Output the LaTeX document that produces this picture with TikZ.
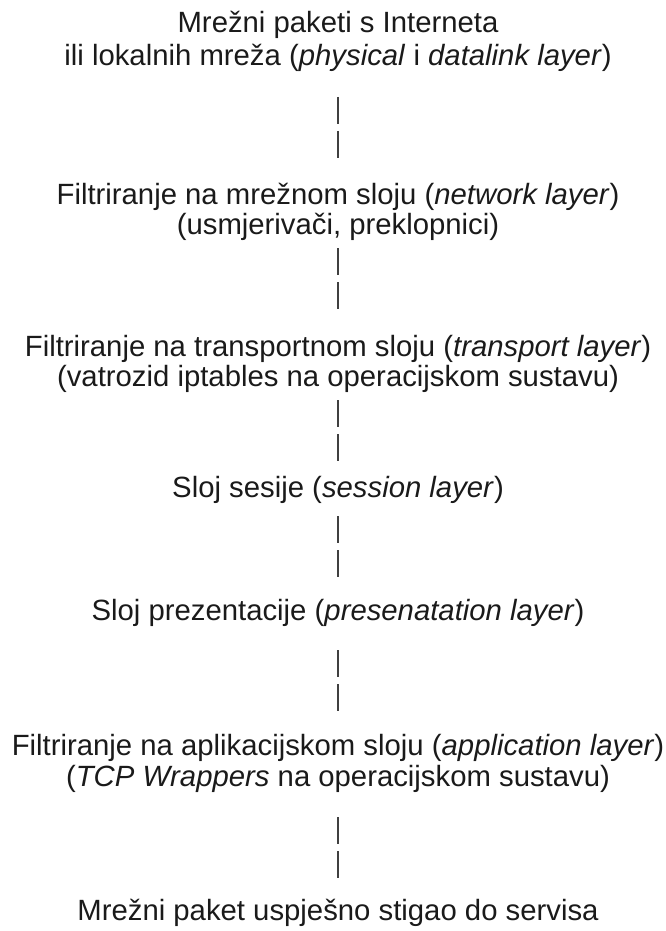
\documentclass[tikz,border=0pt]{standalone}
\usepackage{fontspec}
\setmainfont{Liberation Sans}
\definecolor{ink}{HTML}{1A1A1A}
\definecolor{rule}{HTML}{404040}
\tikzset{
  every node/.style={font=\fontsize{29.3}{29.3}\selectfont, text=ink},
  line/.style={anchor=base, inner sep=0pt},
  bars/.style={draw=rule, line width=2.4pt, dash pattern=on 27pt off 7pt},
}
\begin{document}
\begin{tikzpicture}[x=1pt, y=-1pt]
  \useasboundingbox (0,0) rectangle (666,931);

  % ---- layers, one node per printed line ----
  \node[line] (src1) at (338,33) {Mrežni paketi s Interneta};
  \node[line] (src2) at (338,66) {ili lokalnih mreža (\textit{physical} i \textit{datalink layer})};
  \node[line] (net1) at (338,204) {Filtriranje na mrežnom sloju (\textit{network layer})};
  \node[line] (net2) at (338,234) {(usmjerivači, preklopnici)};
  \node[line] (tr1) at (338,356) {Filtriranje na transportnom sloju (\textit{transport layer})};
  \node[line] (tr2) at (338,386) {(vatrozid iptables na operacijskom sustavu)};
  \node[line] (ses) at (338,497) {Sloj sesije (\textit{session layer})};
  \node[line] (pres) at (338,620) {Sloj prezentacije (\textit{presenatation layer})};
  \node[line] (app1) at (338,755) {Filtriranje na aplikacijskom sloju (\textit{application layer})};
  \node[line] (app2) at (338,786) {(\textit{TCP Wrappers} na operacijskom sustavu)};
  \node[line] (svc) at (338,920) {Mrežni paket uspješno stigao do servisa};

  % ---- double bars between layers ----
  \draw[bars, shorten <=31pt, shorten >=46pt] (src2.base) -- (net1.base);
  \draw[bars, shorten <=14pt, shorten >=47pt] (net2.base) -- (tr1.base);
  \draw[bars, shorten <=14pt, shorten >=36pt] (tr2.base) -- (ses.base);
  \draw[bars, shorten <=19pt, shorten >=43pt] (ses.base) -- (pres.base);
  \draw[bars, shorten <=30pt, shorten >=44pt] (pres.base) -- (app1.base);
  \draw[bars, shorten <=31pt, shorten >=42pt] (app2.base) -- (svc.base);
\end{tikzpicture}
\end{document}
